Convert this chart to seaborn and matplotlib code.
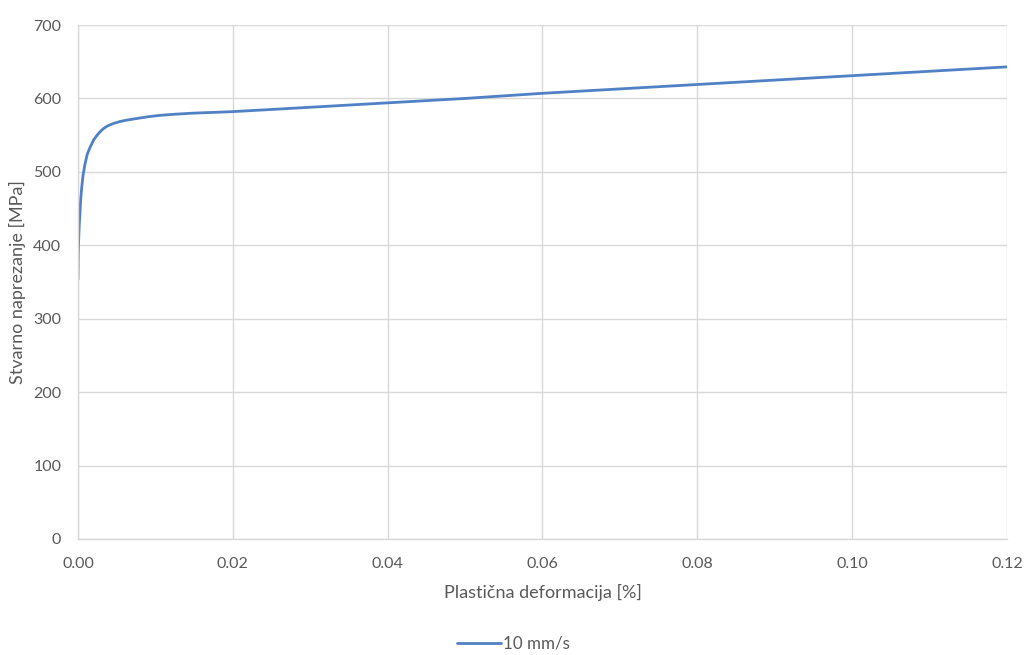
import seaborn as sns
import matplotlib.pyplot as plt
import pandas as pd

# values
strain = [0.0, 0.00004, 0.0001, 0.00018, 0.00026, 0.00036, 0.00048, 0.00065, 0.0009,
          0.0012, 0.00155, 0.002, 0.0024, 0.0028, 0.0033, 0.0039, 0.0046, 0.0054,
          0.0063, 0.0075, 0.009, 0.0106, 0.0125, 0.0149, 0.0175, 0.0199, 0.025,
          0.03, 0.035, 0.04, 0.05, 0.06, 0.07, 0.08, 0.09, 0.10, 0.11, 0.12]
stress = [353, 389, 410, 430, 444, 463, 478, 495, 510,
          524, 533, 543, 549, 554, 559, 563, 566, 568.5,
          570.5, 572.5, 575, 577, 578.5, 580, 581, 582, 585,
          588, 591, 594, 600, 607, 613, 619, 625, 631, 637, 643]
series_name = '10 mm/s'
x_ticks = [0.0, 0.02, 0.04, 0.06, 0.08, 0.10, 0.12]
y_ticks = [0, 100, 200, 300, 400, 500, 600, 700]

df = pd.DataFrame({'strain': strain, 'stress': stress, 'series': series_name})

sns.set_style('white')
plt.rcParams['font.family'] = ['Lato', 'DejaVu Sans']

text_col = '#595959'
grid_col = '#d9d9d9'

fig = plt.figure(figsize=(10.27, 6.55), dpi=100)
ax = fig.add_axes([0.0759, 0.1771, 0.9046, 0.7847])

sns.lineplot(data=df, x='strain', y='stress', hue='series', palette=['#4f81c4'],
             sort=False, estimator=None, linewidth=2.0, ax=ax)

ax.set_xlim(0, 0.12)
ax.set_ylim(0, 700)
ax.set_xticks(x_ticks)
ax.set_yticks(y_ticks)
ax.set_xticklabels([f'{v:.2f}' for v in x_ticks])
ax.set_yticklabels([str(v) for v in y_ticks])

ax.grid(True, color=grid_col, linewidth=1.0)
ax.set_axisbelow(True)
for side in ['top', 'right']:
    ax.spines[side].set_visible(False)
for side in ['left', 'bottom']:
    ax.spines[side].set_color(grid_col)
    ax.spines[side].set_linewidth(1.0)

ax.tick_params(axis='both', length=0, labelsize=11.5, labelcolor=text_col)
ax.tick_params(axis='x', pad=13)
ax.tick_params(axis='y', pad=12)
ax.set_xlabel('Plastična deformacija [%]', fontsize=13, color=text_col)
ax.set_ylabel('Stvarno naprezanje [MPa]', fontsize=13, color=text_col)
ax.xaxis.set_label_coords(0.5, -0.088)
ax.yaxis.set_label_coords(-0.056, 0.5)

ax.legend(loc='center', bbox_to_anchor=(0.469, -0.204), frameon=False,
          handlelength=2.6, handletextpad=0.1, fontsize=12.2, labelcolor=text_col)

plt.savefig('out.png', dpi=100)
